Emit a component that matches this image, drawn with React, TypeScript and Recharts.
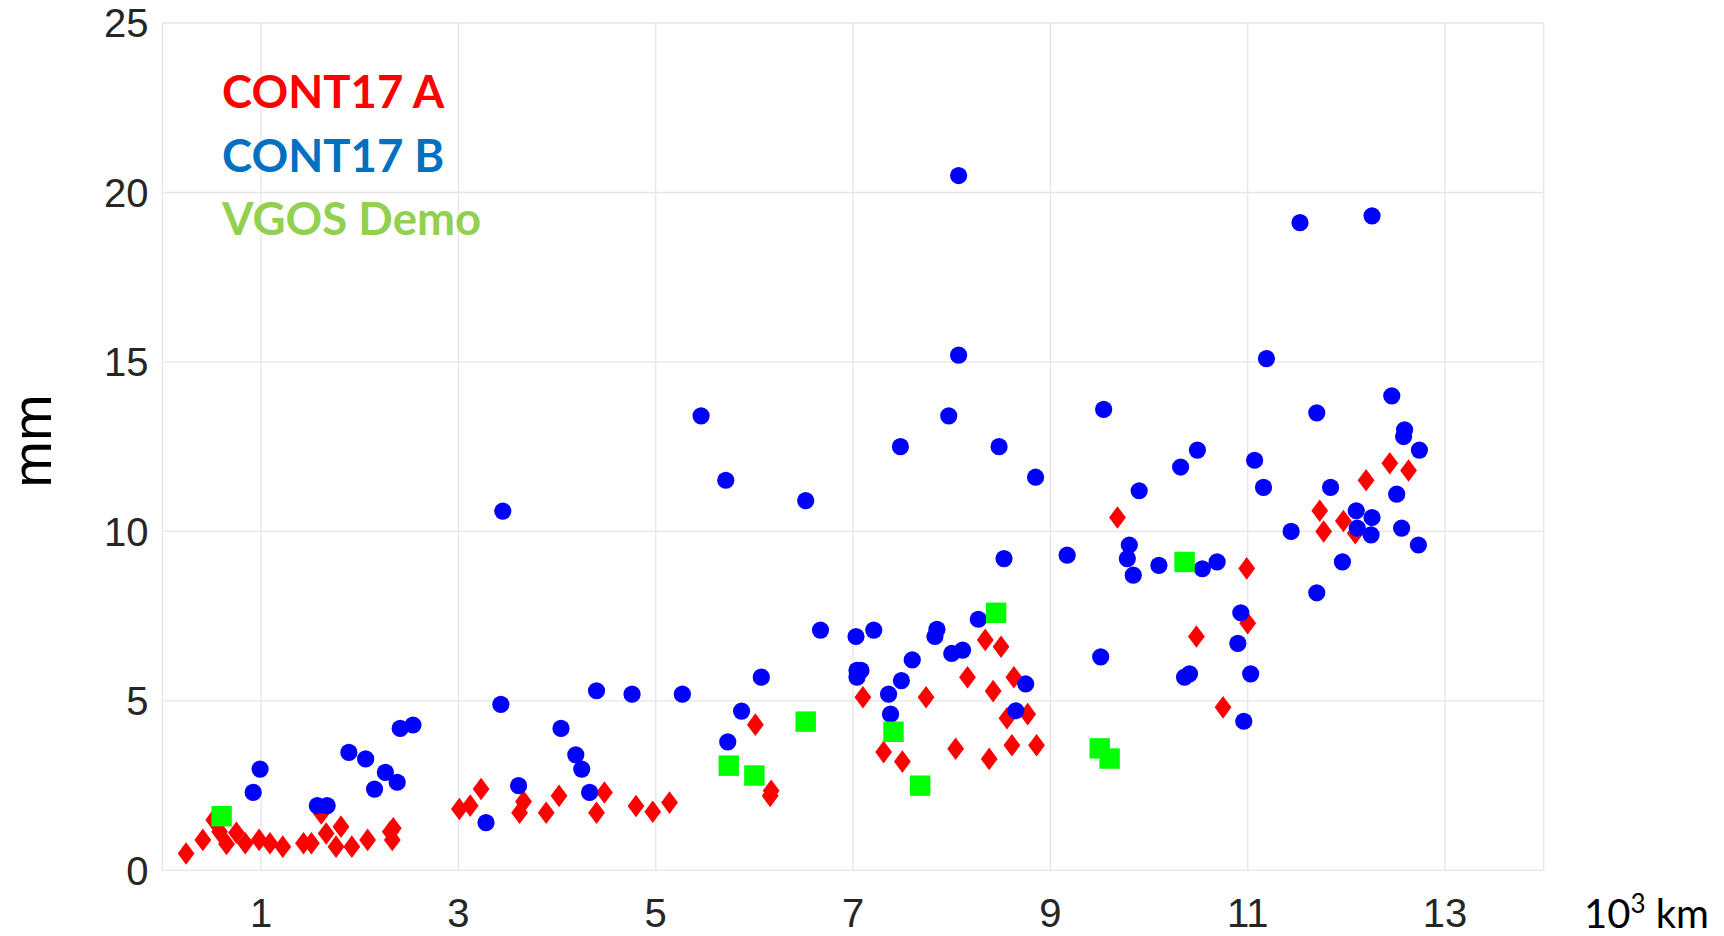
import React from 'react';
import { ScatterChart, Scatter, XAxis, YAxis, CartesianGrid } from 'recharts';

const seriesNames = ['CONT17 A', 'CONT17 B', 'VGOS Demo'];
const seriesColors = ['#ff0000', '#0000ff', '#00ff00'];
const legendColors = ['#ff0000', '#0070c0', '#92d050'];
const xTicks = [1, 3, 5, 7, 9, 11, 13];
const yTicks = [0, 5, 10, 15, 20, 25];
const xDomain = [0, 14];
const yDomain = [0, 25];
const yLabel = 'mm';

const cont17A: [number, number][] = [
  [0.24, 0.5], [0.41, 0.9], [0.52, 1.49], [0.58, 1.14], [0.65, 0.78], [0.75, 1.11], [0.84, 0.8],
  [0.98, 0.9], [1.09, 0.8], [1.22, 0.7], [1.43, 0.8], [1.51, 0.8], [1.61, 1.68], [1.66, 1.09],
  [1.76, 0.7], [1.81, 1.29], [1.92, 0.7], [2.08, 0.9], [2.31, 1.14], [2.34, 1.24], [2.33, 0.9],
  [3.01, 1.81], [3.12, 1.91], [3.23, 2.4], [3.62, 1.7], [3.66, 2.03], [3.89, 1.7], [4.02, 2.2],
  [4.4, 1.7], [4.48, 2.3], [4.8, 1.9], [4.97, 1.73], [5.14, 2.0], [6.01, 4.3], [6.16, 2.2],
  [6.17, 2.35], [7.1, 5.11], [7.31, 3.49], [7.5, 3.21], [7.74, 5.11], [8.04, 3.59], [8.16, 5.7],
  [8.34, 6.8], [8.38, 3.29], [8.42, 5.29], [8.5, 6.6], [8.56, 4.49], [8.61, 3.69], [8.63, 5.7],
  [8.77, 4.61], [8.86, 3.69], [9.68, 10.41], [10.48, 6.9], [10.75, 4.81], [10.99, 8.91],
  [11.0, 7.29], [11.73, 10.61], [11.77, 10.0], [11.97, 10.31], [12.09, 9.95], [12.2, 11.51],
  [12.44, 12.01], [12.63, 11.8],
];

const cont17B: [number, number][] = [
  [0.92, 2.3], [0.99, 2.99], [1.57, 1.91], [1.67, 1.91], [1.89, 3.48], [2.06, 3.29], [2.15, 2.4],
  [2.26, 2.89], [2.38, 2.6], [2.41, 4.19], [2.54, 4.29], [3.28, 1.41], [3.43, 4.9], [3.45, 10.6],
  [3.61, 2.5], [4.04, 4.19], [4.19, 3.41], [4.25, 2.99], [4.33, 2.3], [4.4, 5.3], [4.76, 5.2],
  [5.27, 5.2], [5.46, 13.41], [5.71, 11.51], [5.73, 3.79], [5.87, 4.7], [6.07, 5.7], [6.52, 10.91],
  [6.67, 7.09], [7.03, 6.9], [7.04, 5.9], [7.08, 5.9], [7.04, 5.7], [7.21, 7.09], [7.36, 5.2],
  [7.38, 4.61], [7.48, 12.5], [7.49, 5.6], [7.6, 6.21], [7.83, 6.9], [7.85, 7.11], [7.97, 13.41],
  [8.0, 6.4], [8.07, 20.5], [8.07, 15.2], [8.11, 6.5], [8.27, 7.41], [8.48, 12.5], [8.53, 9.2],
  [8.65, 4.71], [8.75, 5.5], [8.85, 11.6], [9.17, 9.3], [9.51, 6.3], [9.54, 13.6], [9.78, 9.2],
  [9.8, 9.6], [9.84, 8.71], [9.9, 11.2], [10.1, 9.0], [10.32, 11.9], [10.36, 5.7], [10.41, 5.8],
  [10.49, 12.4], [10.54, 8.9], [10.69, 9.1], [10.9, 6.7], [10.93, 7.6], [10.96, 4.4], [11.03, 5.8],
  [11.07, 12.1], [11.16, 11.3], [11.19, 15.1], [11.44, 10.0], [11.53, 19.11], [11.7, 8.19],
  [11.7, 13.5], [11.84, 11.3], [11.96, 9.1], [12.1, 10.61], [12.11, 10.1], [12.25, 9.9],
  [12.26, 10.41], [12.26, 19.31], [12.46, 14.0], [12.51, 11.1], [12.56, 10.1], [12.58, 12.8],
  [12.59, 13.0], [12.73, 9.6], [12.74, 12.4],
];

const vgosDemo: [number, number][] = [
  [0.6, 1.6], [5.74, 3.09], [6.0, 2.8], [6.52, 4.39], [7.41, 4.09], [7.68, 2.5], [8.45, 7.6],
  [9.5, 3.6], [9.6, 3.3], [10.36, 9.1],
];

const toRows = (pts: [number, number][]) => pts.map(([x, y]) => ({ x, y }));

const Diamond = (p: any) => (
  <path
    d={`M${p.cx},${p.cy - 11.3}L${p.cx + 8.4},${p.cy}L${p.cx},${p.cy + 11.3}L${p.cx - 8.4},${p.cy}Z`}
    fill={seriesColors[0]}
  />
);
const Dot = (p: any) => <circle cx={p.cx} cy={p.cy} r={8.6} fill={seriesColors[1]} />;
const Square = (p: any) => (
  <rect x={p.cx - 10.2} y={p.cy - 10.2} width={20.4} height={20.4} fill={seriesColors[2]} />
);

const NoTick = () => <g />;

const frame = '#6e6e6e';
const tickFont = { fill: '#262626', fontSize: 40, fontFamily: 'Liberation Sans, Arial, sans-serif' };

export default function App() {
  return (
    <div style={{ position: 'absolute', left: 0, top: 0, width: 1724, height: 936, background: '#fff' }}>
      <ScatterChart
        width={1724}
        height={936}
        margin={{ top: 23, right: 180.3, bottom: 5.6, left: 62.4 }}
      >
        <CartesianGrid stroke="#e6e6e6" strokeWidth={1.3} />
        <XAxis
          type="number"
          dataKey="x"
          domain={xDomain}
          ticks={xTicks}
          interval={0}
          allowDataOverflow
          height={60}
          tickSize={0}
          tickMargin={28}
          tickLine={false}
          axisLine={false}
          tick={tickFont}
        />
        <YAxis
          type="number"
          dataKey="y"
          domain={yDomain}
          ticks={yTicks}
          interval={0}
          allowDataOverflow
          width={100}
          tickSize={0}
          tickMargin={14}
          tickLine={false}
          axisLine={false}
          tick={tickFont}
        />
        <XAxis xAxisId="b" orientation="bottom" type="number" domain={xDomain} ticks={xTicks} interval={0}
          allowDataOverflow mirror height={0} tickSize={13} tick={NoTick}
          tickLine={{ stroke: frame, strokeWidth: 1.5 }} axisLine={{ stroke: frame, strokeWidth: 1.5 }} />
        <XAxis xAxisId="t" orientation="top" type="number" domain={xDomain} ticks={xTicks} interval={0}
          allowDataOverflow mirror height={0} tickSize={13} tick={NoTick}
          tickLine={{ stroke: frame, strokeWidth: 1.5 }} axisLine={{ stroke: frame, strokeWidth: 1.5 }} />
        <YAxis yAxisId="l" orientation="left" type="number" domain={yDomain} ticks={yTicks} interval={0}
          allowDataOverflow mirror width={0} tickSize={13} tick={NoTick}
          tickLine={{ stroke: frame, strokeWidth: 1.5 }} axisLine={{ stroke: frame, strokeWidth: 1.5 }} />
        <YAxis yAxisId="r" orientation="right" type="number" domain={yDomain} ticks={yTicks} interval={0}
          allowDataOverflow mirror width={0} tickSize={13} tick={NoTick}
          tickLine={{ stroke: frame, strokeWidth: 1.5 }} axisLine={{ stroke: frame, strokeWidth: 1.5 }} />
        <Scatter name={seriesNames[0]} data={toRows(cont17A)} shape={Diamond} isAnimationActive={false} />
        <Scatter name={seriesNames[1]} data={toRows(cont17B)} shape={Dot} isAnimationActive={false} />
        <Scatter name={seriesNames[2]} data={toRows(vgosDemo)} shape={Square} isAnimationActive={false} />
      </ScatterChart>
      <svg
        width={1724}
        height={936}
        style={{ position: 'absolute', left: 0, top: 0, pointerEvents: 'none' }}
      >
        {seriesNames.map((n, i) => (
          <text
            key={n}
            x={222}
            y={108 + i * 63.5}
            fill={legendColors[i]}
            fontFamily="Lato, 'Open Sans', sans-serif"
            fontWeight={700}
            fontSize={45.5}
          >
            {n}
          </text>
        ))}
        <text
          transform="translate(51,441) rotate(-90)"
          textAnchor="middle"
          fontFamily="Liberation Sans, Arial, sans-serif"
          fontSize={56}
          fill="#000"
        >
          {yLabel}
        </text>
        <text x={1584} y={928} fontFamily="Lato, sans-serif" fontSize={40} fill="#000">
          10<tspan fontSize={26} dy={-15}>3</tspan><tspan dy={15}> km</tspan>
        </text>
      </svg>
    </div>
  );
}
